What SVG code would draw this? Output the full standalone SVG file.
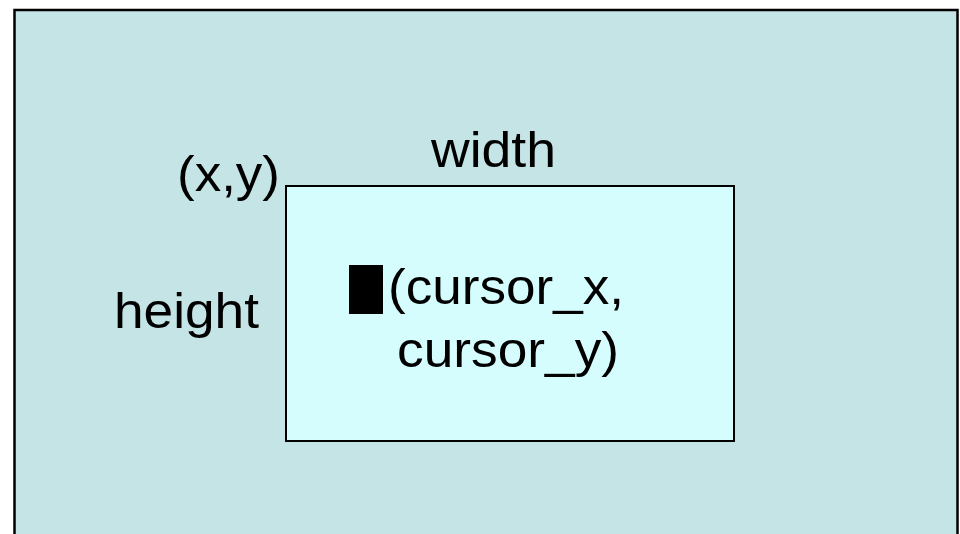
<svg xmlns="http://www.w3.org/2000/svg" width="960" height="534" viewBox="0 0 960 534">
<style>
.t{font-family:"Liberation Sans",Arial,sans-serif;font-size:50px;fill:#000}
</style>
<rect x="0" y="0" width="960" height="534" fill="#ffffff"/>
<g id="screen">
<rect x="14.5" y="10" width="943" height="540" fill="#c5e4e6" stroke="#000" stroke-width="2.5"/>
</g>
<g id="window">
<rect x="286" y="186" width="448" height="255" fill="#d5fdfe" stroke="#000" stroke-width="2"/>
</g>
<g id="labels">
<text class="t" x="177" y="191" textLength="103" lengthAdjust="spacingAndGlyphs">(x,y)</text>
<text class="t" x="431" y="167" textLength="125" lengthAdjust="spacingAndGlyphs">width</text>
<text class="t" x="114" y="328" textLength="145" lengthAdjust="spacingAndGlyphs">height</text>
<rect x="349" y="265" width="34" height="49" fill="#000"/>
<text class="t" x="388" y="304" textLength="236" lengthAdjust="spacingAndGlyphs">(cursor_x,</text>
<text class="t" x="397" y="367" textLength="222" lengthAdjust="spacingAndGlyphs">cursor_y)</text>
</g>
</svg>
